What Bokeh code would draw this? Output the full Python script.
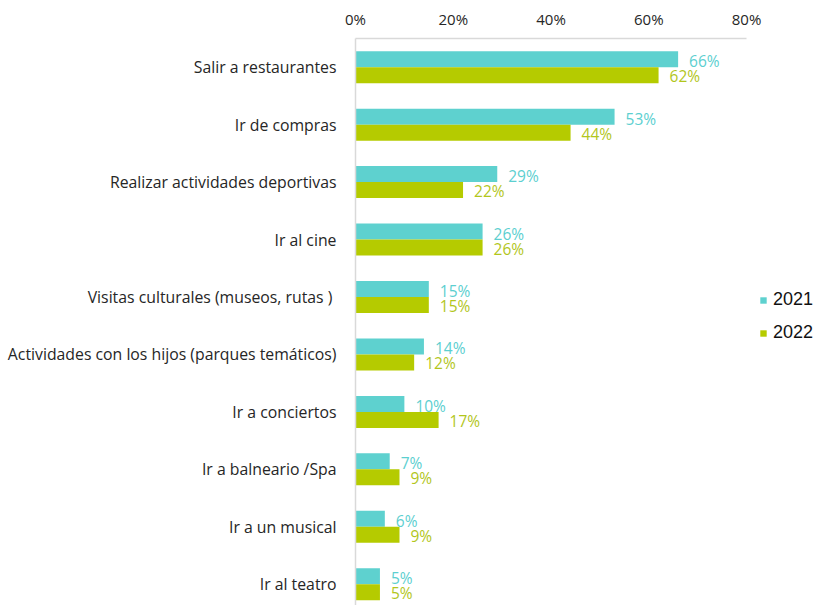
from bokeh.plotting import figure
from bokeh.models import (ColumnDataSource, Range1d, FixedTicker, PrintfTickFormatter,
                          Legend, LegendItem)
from bokeh.transform import dodge
from bokeh.core.properties import value
from bokeh.embed import file_html
from bokeh.resources import INLINE

categories = [
    "Salir a restaurantes",
    "Ir de compras",
    "Realizar actividades deportivas",
    "Ir al cine",
    "Visitas  culturales (museos, rutas )",
    "Actividades con los hijos (parques temáticos)",
    "Ir a conciertos",
    "Ir a balneario /Spa",
    "Ir a un musical",
    "Ir al teatro",
]
v2021 = [66, 53, 29, 26, 15, 14, 10, 7, 6, 5]
v2022 = [62, 44, 22, 26, 15, 12, 17, 9, 9, 5]
x_ticks = [0, 20, 40, 60, 80]
series_names = ["2021", "2022"]

TEAL = "#5ED1CF"
GREEN = "#B5CB00"
TEAL_TXT = "#5CCFD0"
GREEN_TXT = "#B2C61C"
FONT = "Open Sans"

idx = list(range(len(categories)))
src = ColumnDataSource(dict(
    y=idx, a=v2021, b=v2022,
    la=[f"{v}%" for v in v2021], lb=[f"{v}%" for v in v2022],
))

p = figure(width=814, height=605, output_backend="svg", toolbar_location=None,
           x_range=Range1d(0, 93.9), y_range=Range1d(9.37, -0.5),
           x_axis_location="above",
           min_border_left=355, min_border_right=0, min_border_top=38, min_border_bottom=0)
p.outline_line_color = None
p.xgrid.visible = False
p.ygrid.visible = False

bw = 0.2785
r1 = p.hbar(y=dodge("y", -bw / 2, range=p.y_range), left=0, right="a", height=bw,
            fill_color=TEAL, line_color=None, source=src)
r2 = p.hbar(y=dodge("y", bw / 2, range=p.y_range), left=0, right="b", height=bw,
            fill_color=GREEN, line_color=None, source=src)

p.text(x="a", y=dodge("y", -bw / 2, range=p.y_range), text="la", source=src,
       x_offset=11, y_offset=2, text_baseline="middle", text_align="left",
       text_color=TEAL_TXT, text_font=value(FONT), text_font_size="15.5px")
p.text(x="b", y=dodge("y", bw / 2, range=p.y_range), text="lb", source=src,
       x_offset=11, y_offset=1, text_baseline="middle", text_align="left",
       text_color=GREEN_TXT, text_font=value(FONT), text_font_size="15.5px")

xa = p.xaxis[0]
xa.ticker = FixedTicker(ticks=x_ticks)
xa.bounds = (0, 80)
xa.formatter = PrintfTickFormatter(format="%d%%")
xa.axis_line_color = "#D9D9D9"
xa.axis_line_width = 1.5
xa.major_tick_line_color = None
xa.minor_tick_line_color = None
xa.major_label_standoff = 4
xa.major_label_text_font = FONT
xa.major_label_text_font_size = "15px"
xa.major_label_text_color = "#262626"

ya = p.yaxis[0]
ya.ticker = FixedTicker(ticks=idx)
ya.major_label_overrides = {i: c for i, c in zip(idx, categories)}
ya.axis_line_color = "#D9D9D9"
ya.axis_line_width = 1.5
ya.major_tick_line_color = None
ya.minor_tick_line_color = None
ya.major_label_standoff = 13
ya.major_label_text_font = FONT
ya.major_label_text_font_size = "15.8px"
ya.major_label_text_color = "#262626"

legend = Legend(items=[LegendItem(label=series_names[0], renderers=[r1]),
                       LegendItem(label=series_names[1], renderers=[r2])],
                location=(404, 262), orientation="vertical",
                glyph_width=8, glyph_height=8, label_standoff=6,
                label_height=20, spacing=12, padding=0, margin=0,
                border_line_color=None, background_fill_alpha=0,
                label_text_font="Liberation Sans", label_text_font_size="18px",
                label_text_color="#111111")
p.add_layout(legend)

open("out.html", "w").write(file_html(p, INLINE))
